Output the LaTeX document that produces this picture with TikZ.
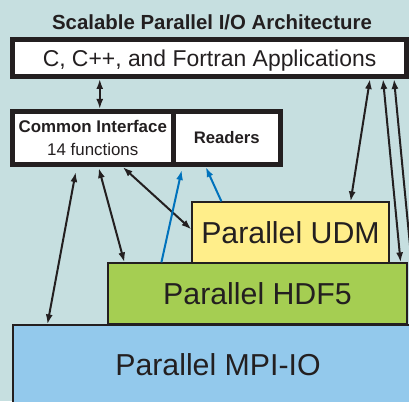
\documentclass[tikz,border=0pt]{standalone}
\usepackage{fontspec}
\setmainfont{Liberation Sans}
\usepackage{xcolor}
\usepackage{tikz}
\usetikzlibrary{arrows.meta,positioning}
\definecolor{panelbg}{HTML}{C6DFE0}
\definecolor{inkdark}{HTML}{231F20}
\definecolor{udmyellow}{HTML}{FFEE8A}
\definecolor{hdfgreen}{HTML}{A5CE52}
\definecolor{mpiblue}{HTML}{93C9EC}
\definecolor{readerblue}{HTML}{0072BC}

\begin{document}
\begin{tikzpicture}[
    x=1pt, y=-1pt,
    api_box/.style={rectangle, draw=inkdark, fill=white, line width=5pt, inner sep=0pt, text=inkdark},
    layer_box/.style={rectangle, draw=inkdark, line width=1.2pt, inner sep=0pt, text=inkdark, font=\fontsize{30.3}{36}\selectfont},
    link/.style={{Latex[length=10pt,width=7pt]}-{Latex[length=10pt,width=7pt]}, inkdark, line width=2pt},
    feed/.style={-{Latex[length=10pt,width=7pt]}, readerblue, line width=2pt}
]

% Panel
\useasboundingbox (0,0) rectangle (409,401);
\clip (0,0) rectangle (409,401);
\fill[panelbg] (0,0) rectangle (409,401);

\node[text=inkdark, font=\fontsize{20.4}{24}\selectfont\bfseries] (title) at (212,22) {Scalable Parallel I/O Architecture};

% Applications
\node[api_box, minimum width=394pt, minimum height=37pt, text depth=0pt, font=\fontsize{22.9}{27}\selectfont] (apps) at (209.5,58) {C, C++, and Fortran Applications};

% Interfaces
\node[api_box, minimum width=160.5pt, minimum height=53pt, align=center, font=\fontsize{16.9}{23}\selectfont] (ci) at (92.75,138) {\textbf{Common Interface}\\14 functions};
\node[api_box, minimum width=107.5pt, minimum height=53pt, font=\fontsize{16.7}{20}\selectfont\bfseries, right=-5pt of ci] (rd) {Readers};

% Layers
\node[layer_box, fill=mpiblue, minimum width=410pt, minimum height=80pt] (mpi) at (218,365) {Parallel MPI-IO};
\node[layer_box, fill=hdfgreen, minimum width=299pt, minimum height=61pt] (hdf) at (257.5,293.5) {Parallel HDF5};
\node[layer_box, fill=udmyellow, minimum width=197pt, minimum height=61pt] (udm) at (290.5,232.5) {Parallel UDM};

% Connections
\draw[link] ([xshift=7pt]ci.north) -- ([xshift=7pt]ci.north |- apps.south);
\draw[link] ([xshift=-17pt,yshift=-5pt]ci.south) -- ([xshift=35pt]mpi.north west);
\draw[link] ([xshift=6pt,yshift=-1pt]ci.south) -- ([xshift=17pt]hdf.north west);
\draw[link] ([xshift=30pt]ci.south) -- ([yshift=3pt]udm.west);
\draw[feed] ([xshift=54pt]hdf.north west) -- ([xshift=-45pt,yshift=-3pt]rd.south);
\draw[feed] ([xshift=30pt]udm.north west) -- ([xshift=-21pt]rd.south);
\draw[link] ([xshift=-39pt]apps.south east) -- ([xshift=-39pt]udm.north east);
\draw[link] ([xshift=-26pt]apps.south east) -- ([xshift=-7pt]hdf.north east);
\draw[link] ([xshift=-15pt]apps.south east) -- ([xshift=-6pt]mpi.north east);

\end{tikzpicture}
\end{document}
